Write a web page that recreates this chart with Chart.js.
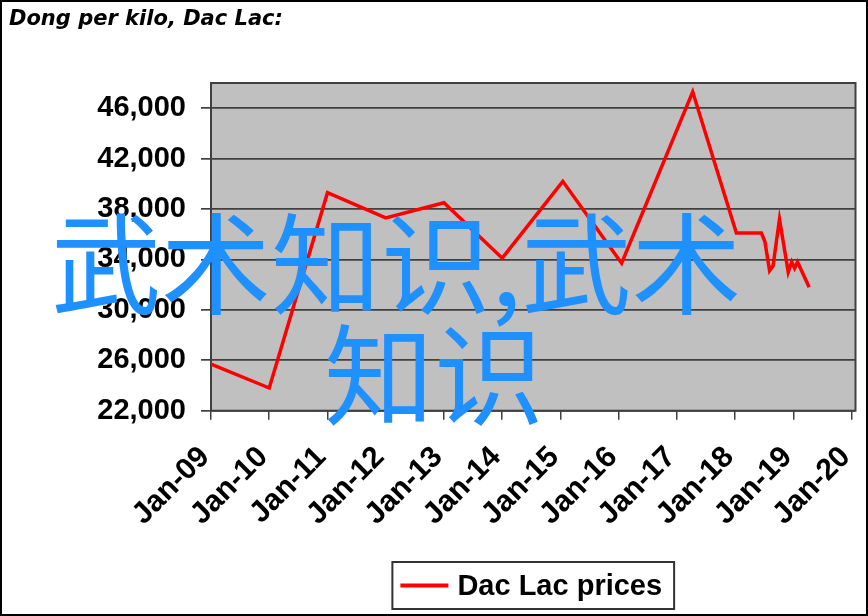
<!DOCTYPE html>
<html><head><meta charset="utf-8">
<script src="https://cdn.jsdelivr.net/npm/chart.js@4.4.0/dist/chart.umd.min.js"></script>
<style>
html,body{margin:0;padding:0;background:#fff;}
#wrap{position:relative;width:868px;height:616px;overflow:hidden;background:#fff;}
#c{position:absolute;left:0;top:0;}
#frame{position:absolute;left:0;top:0;width:868px;height:616px;border:2px solid #000;box-sizing:border-box;pointer-events:none;}
.wm{position:absolute;color:#1E90FF;font-family:"Noto Sans CJK SC";font-size:110px;line-height:110px;white-space:nowrap;}
</style></head>
<body><div id="wrap"><canvas id="c" width="868" height="616"></canvas><div id="frame"></div>
<div class="wm" style="left:51px;top:203px">武术知识,武术</div>
<div class="wm" style="left:324px;top:314px">知识</div>
</div>
<script>
// Data (decimal year, Dong per kilo)
const dates  = [2009.0, 2010.0, 2011.0, 2012.0, 2013.0, 2014.0, 2015.04, 2016.05, 2017.27, 2018.02,
                2018.45, 2018.51, 2018.59, 2018.65, 2018.76, 2018.91, 2018.97, 2019.02, 2019.07, 2019.27];
const prices = [25700, 23800, 39300, 37300, 38500, 34100, 40200, 33700, 47300, 36100,
                36100, 35400, 33100, 33500, 37200, 33000, 33800, 33300, 33800, 31800];
const xTickYears  = [2009, 2010, 2011, 2012, 2013, 2014, 2015, 2016, 2017, 2018, 2019, 2020];
const xTickLabels = ['Jan-09','Jan-10','Jan-11','Jan-12','Jan-13','Jan-14','Jan-15','Jan-16','Jan-17','Jan-18','Jan-19','Jan-20'];
const yTickValues = [22000, 26000, 30000, 34000, 38000, 42000, 46000];
const yTickLabels = ['22,000','26,000','30,000','34,000','38,000','42,000','46,000'];
const seriesLabel = 'Dac Lac prices';
const chartTitle  = 'Dong per kilo, Dac Lac:';

const xFont = {family:'"Liberation Sans", Arial, sans-serif', weight:'bold', size:30};
const yFont = {family:'"Liberation Sans", Arial, sans-serif', weight:'bold', size:29};

const plotDeco = {
  id:'plotDeco',
  beforeDraw(chart){
    const {ctx, chartArea:a} = chart;
    ctx.save(); ctx.fillStyle = '#C0C0C0';
    ctx.fillRect(a.left, a.top, a.width, a.height); ctx.restore();
  },
  beforeDatasetsDraw(chart){
    const {ctx, chartArea:a} = chart;
    ctx.save(); ctx.strokeStyle = '#404040'; ctx.lineWidth = 2;
    ctx.strokeRect(a.left, a.top, a.width, a.height); ctx.restore();
  },
  afterDraw(chart){
    const {ctx, chartArea:a} = chart;
    const ds = chart.data.datasets[0];
    ctx.save();
    ctx.font = 'bold 29px "Liberation Sans", Arial, sans-serif';
    const tw = ctx.measureText(ds.label).width;
    const padL = 8, lineW = 48, gap = 9, padR = 12;
    const bw = padL + lineW + gap + tw + padR, bh = 47;
    const cx = (a.left + a.right) / 2;
    const bx = cx - bw / 2, by = 562;
    ctx.strokeStyle = '#333'; ctx.lineWidth = 2;
    ctx.strokeRect(bx, by, bw, bh);
    const cy = by + bh / 2;
    ctx.strokeStyle = ds.borderColor; ctx.lineWidth = 4;
    ctx.beginPath(); ctx.moveTo(bx + padL, cy); ctx.lineTo(bx + padL + lineW, cy); ctx.stroke();
    ctx.fillStyle = '#000'; ctx.textBaseline = 'middle'; ctx.textAlign = 'left';
    ctx.fillText(ds.label, bx + padL + lineW + gap, cy + 1);
    ctx.restore();
  }
};

new Chart(document.getElementById('c'), {
  type:'line',
  data:{
    datasets:[{
      label: seriesLabel,
      data: dates.map((d,i)=>({x:d, y:prices[i]})),
      borderColor:'#FF0000', borderWidth:3.5, pointRadius:0, tension:0, fill:false
    }]
  },
  options:{
    responsive:false, animation:false, devicePixelRatio:1,
    layout:{padding:{left:9, right:12.5, top:0, bottom:65.3}},
    plugins:{
      legend:{display:false},
      tooltip:{enabled:false},
      title:{display:true, text:chartTitle, align:'start', color:'#000',
        font:{family:'"DejaVu Sans", Verdana, sans-serif', weight:'bold', style:'italic', size:21},
        padding:{top:7, bottom:50.8}}
    },
    scales:{
      x:{
        type:'linear', min:2009, max:2020.065,
        afterBuildTicks:s=>{ s.ticks = xTickYears.map(v=>({value:v})); },
        afterFit:s=>{ s.height = 140; s.paddingLeft = 0; s.paddingRight = 0; },
        ticks:{autoSkip:false, minRotation:45, maxRotation:45, color:'#000', font:xFont, padding:20, labelOffset:-6,
          callback:(v)=>xTickLabels[xTickYears.indexOf(v)]},
        grid:{drawOnChartArea:false, drawTicks:true, tickLength:9, color:'#404040', lineWidth:1.5},
        border:{display:false}
      },
      y:{
        min:22000, max:48000,
        afterBuildTicks:s=>{ s.ticks = yTickValues.map(v=>({value:v})); },
        afterFit:s=>{ s.width = 202; s.paddingTop = 0; s.paddingBottom = 0; },
        ticks:{color:'#000', font:yFont, padding:15,
          callback:(v)=>yTickLabels[yTickValues.indexOf(v)]},
        grid:{color:'#404040', lineWidth:1.7, tickLength:10, drawTicks:true},
        border:{display:false}
      }
    }
  },
  plugins:[plotDeco]
});
</script>
</body></html>
